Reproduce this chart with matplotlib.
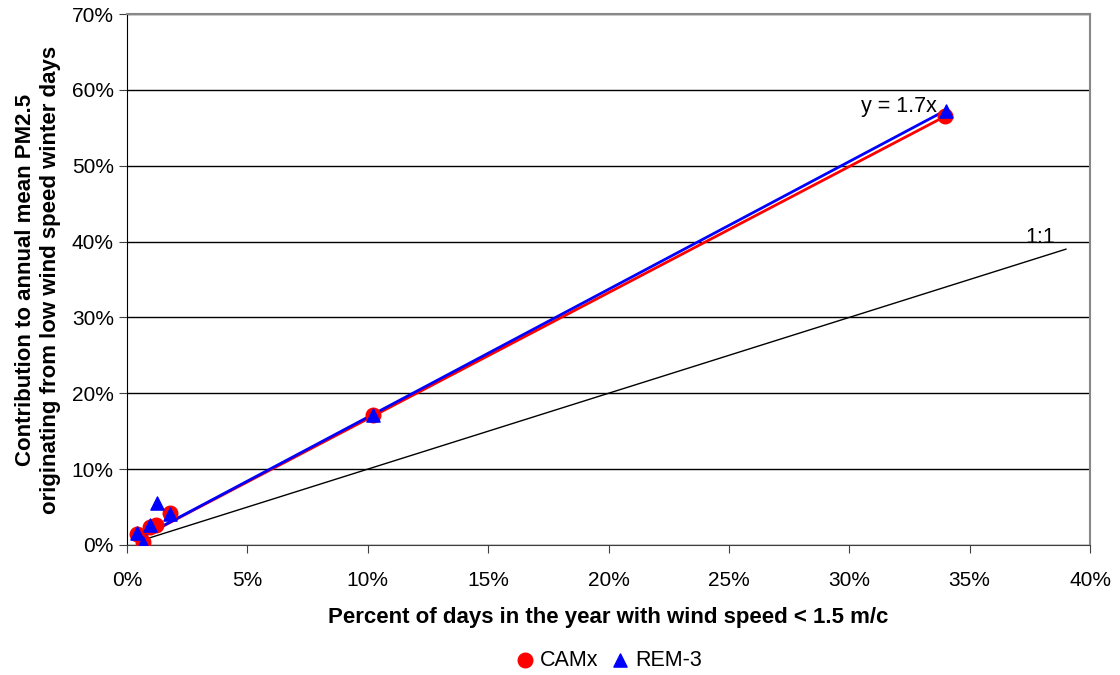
import numpy as np
import matplotlib.pyplot as plt
from matplotlib.ticker import PercentFormatter

plt.rcParams['font.family'] = ['Liberation Sans', 'DejaVu Sans']

# percent of days with low wind speed / contribution, %
camx_x = [33.98, 10.2, 1.8, 1.2, 0.95, 0.4, 0.65]
camx_y = [56.55, 17.2, 4.2, 2.6, 2.4, 1.5, 0.4]
rem_x = [34.0, 10.2, 1.25, 1.8, 0.95, 0.4, 0.65]
rem_y = [57.2, 17.2, 5.5, 4.1, 2.6, 1.6, 0.3]

camx_slope = 1.663
rem_slope = 1.685
one_to_one = [0.5, 39.0]

fig = plt.figure(figsize=(11.2, 6.75), dpi=100)
ax = fig.add_axes([127 / 1120, 1 - 545 / 675, (1090 - 127) / 1120, (545 - 14) / 675])

xs = np.array([min(camx_x), max(camx_x)])
ax.plot(xs, camx_slope * xs, color='#ff0000', lw=2, zorder=3)
xs = np.array([min(rem_x), max(rem_x)])
ax.plot(xs, rem_slope * xs, color='#0000ff', lw=2, zorder=3)
ax.plot(one_to_one, one_to_one, color='black', lw=1, zorder=3)

ax.scatter(camx_x, camx_y, s=110, color='#ff0000', marker='o', zorder=4, label='CAMx')
ax.scatter(rem_x, rem_y, s=90, color='#0000ff', marker='^', zorder=5, label='REM-3')

ax.text(30.5, 57.8, 'y = 1.7x', fontsize=15.5, ha='left', va='center')
ax.text(37.3, 40.5, '1:1', fontsize=15.5, ha='left', va='center')

ax.set_xlim(0, 40)
ax.set_ylim(0, 70)
ax.set_xticks(np.arange(0, 41, 5))
ax.set_yticks(np.arange(0, 71, 10))
ax.xaxis.set_major_formatter(PercentFormatter(decimals=0))
ax.yaxis.set_major_formatter(PercentFormatter(decimals=0))
ax.tick_params(labelsize=15, length=6, direction='out', color='#404040')
ax.tick_params(axis='x', pad=13)
ax.grid(axis='y', color='black', lw=1)
ax.set_axisbelow(True)
for side in ['top', 'right']:
    ax.spines[side].set_color('#888888')
    ax.spines[side].set_linewidth(1.5)
ax.spines['bottom'].set_color('#404040')

ax.set_xlabel('Percent of days in the year with wind speed < 1.5 m/c',
              fontsize=16, fontweight='bold', labelpad=12)
ax.set_ylabel('Contribution to annual mean PM2.5\noriginating from low wind speed winter days',
              fontsize=16, fontweight='bold', labelpad=8)

fig.legend(loc='center', bbox_to_anchor=(0.543, 1 - 660 / 675), ncol=2, frameon=False,
           fontsize=15.5, handlelength=1.0, handletextpad=0.2, columnspacing=0.5,
           markerscale=1.0)

fig.savefig('out.png', dpi=100)
